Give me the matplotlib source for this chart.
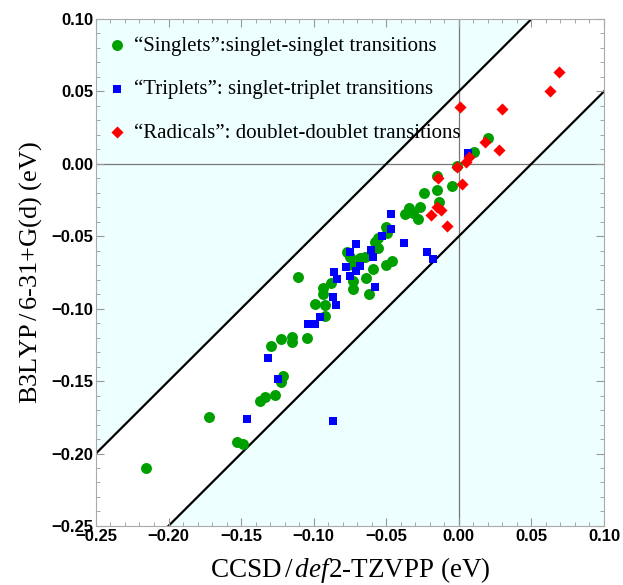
import numpy as np
import matplotlib
matplotlib.use("Agg")
import matplotlib.pyplot as plt
from matplotlib.ticker import MultipleLocator, FuncFormatter

plt.rcParams["mathtext.fontset"] = "custom"
plt.rcParams["mathtext.rm"] = "Liberation Serif"
plt.rcParams["mathtext.it"] = "Liberation Serif:italic"

# ---- data (CCSD x, B3LYP y) ----
singlets_x = [0.0200, 0.0103, -0.0014, -0.0152, -0.0048, -0.0152, -0.0241, -0.0138, -0.0269, -0.0345,
              -0.0372, -0.0317, -0.0283, -0.0503, -0.0496, -0.0558, -0.0579, -0.0558, -0.0772, -0.0751,
              -0.0682, -0.0648, -0.0731, -0.0462, -0.0503, -0.0593, -0.0641, -0.0731, -0.0731, -0.0620,
              -0.1110, -0.0937, -0.0937, -0.0992, -0.0924, -0.0924, -0.1048, -0.1151, -0.1151, -0.1227,
              -0.1296, -0.1213, -0.1227, -0.1268, -0.1337, -0.1371, -0.1723, -0.1530, -0.1489, -0.2157,
              -0.0880]
singlets_y = [0.0179, 0.0083, -0.0014, -0.0083, -0.0152, -0.0179, -0.0200, -0.0262, -0.0297, -0.0304,
              -0.0345, -0.0338, -0.0380, -0.0435, -0.0476, -0.0511, -0.0538, -0.0580, -0.0607, -0.0642,
              -0.0649, -0.0642, -0.0697, -0.0669, -0.0697, -0.0725, -0.0787, -0.0807, -0.0863, -0.0897,
              -0.0780, -0.0856, -0.0897, -0.0966, -0.0973, -0.1049, -0.1201, -0.1194, -0.1228, -0.1208,
              -0.1256, -0.1463, -0.1504, -0.1594, -0.1608, -0.1636, -0.1746, -0.1919, -0.1932, -0.2098,
              -0.0820]

triplets_x = [0.0062, -0.0469, -0.0469, -0.0531, -0.0379, -0.0710, -0.0221, -0.0179, -0.0606, -0.0593,
              -0.0751, -0.0779, -0.0682, -0.0861, -0.0710, -0.0751, -0.0841, -0.0579, -0.0868, -0.0848,
              -0.0958, -0.0992, -0.1041, -0.1316, -0.1247, -0.1461, -0.0868]
triplets_y = [0.0076, -0.0345, -0.0449, -0.0497, -0.0545, -0.0552, -0.0607, -0.0656, -0.0594, -0.0642,
              -0.0607, -0.0711, -0.0704, -0.0745, -0.0738, -0.0773, -0.0794, -0.0849, -0.0918, -0.0973,
              -0.1056, -0.1104, -0.1104, -0.1339, -0.1484, -0.1760, -0.1774]

radicals_x = [0.069, 0.063, 0.001, 0.030, 0.028, 0.018, 0.007, 0.005, -0.001, -0.0145,
              0.002, -0.015, -0.012, -0.019, -0.008]
radicals_y = [0.0635, 0.050, 0.039, 0.038, 0.0097, 0.015, 0.005, 0.001, -0.002, -0.010,
              -0.014, -0.030, -0.032, -0.035, -0.043]

labels = ["\u201cSinglets\u201d:singlet-singlet transitions",
          "\u201cTriplets\u201d: singlet-triplet transitions",
          "\u201cRadicals\u201d: doublet-doublet transitions"]
band = 0.05
xlim = (-0.25, 0.10)
ylim = (-0.25, 0.10)

fig = plt.figure(figsize=(6.23, 5.85), dpi=100)
ax = fig.add_axes([0.154, 0.101, 0.8155, 0.8665])
ax.set_xlim(*xlim)
ax.set_ylim(*ylim)

# background shading
ax.set_facecolor("#EEFFFF")
xx = np.array(xlim)
ax.fill_between(xx, xx - band, xx + band, color="white", zorder=0.5, lw=0)
ax.plot(xx, xx + band, color="black", lw=1.6, zorder=1)
ax.plot(xx, xx - band, color="black", lw=1.6, zorder=1)
ax.axhline(0, color="#777777", lw=0.9, zorder=0.8)
ax.axvline(0, color="#777777", lw=0.9, zorder=0.8)

ax.scatter(singlets_x, singlets_y, s=62, marker="o", color="#009F00", lw=0, zorder=3, label=labels[0])
ax.scatter(triplets_x, triplets_y, s=30, marker="s", color="#0000FF", lw=0, zorder=3, label=labels[1])
ax.scatter(radicals_x, radicals_y, s=38, marker="D", color="#FF0000", lw=0, zorder=3, label=labels[2])

fmt = FuncFormatter(lambda v, p: f"{v:.2f}".replace("-", "\u2212") if abs(v) > 1e-9 else "0.00")
ax.xaxis.set_major_locator(MultipleLocator(0.05))
ax.yaxis.set_major_locator(MultipleLocator(0.05))
ax.xaxis.set_minor_locator(MultipleLocator(0.01))
ax.yaxis.set_minor_locator(MultipleLocator(0.01))
ax.xaxis.set_major_formatter(fmt)
ax.yaxis.set_major_formatter(fmt)
ax.tick_params(which="both", direction="in", top=True, right=True, color="#999999")
ax.tick_params(which="major", length=6, width=0.8, pad=2)
ax.tick_params(which="minor", length=3, width=0.6)
for lab in ax.get_xticklabels() + ax.get_yticklabels():
    lab.set_fontfamily("Liberation Sans")
    lab.set_fontweight("bold")
    lab.set_fontsize(12)
for sp in ax.spines.values():
    sp.set_color("#AAAAAA")
    sp.set_linewidth(0.8)

ax.set_xlabel("CCSD$\\,/\\,$$\\mathit{def}$2-TZVPP (eV)", fontfamily="Liberation Serif", fontsize=19.5, labelpad=8)
ax.set_ylabel("B3LYP$\\,/\\,$6-31+G(d) (eV)", fontfamily="Liberation Serif", fontsize=19, labelpad=5)

leg = ax.legend(loc="upper left", frameon=False, prop={"family": "Liberation Serif", "size": 15},
                labelspacing=1.15, handletextpad=0.25, borderaxespad=0.0, handlelength=1.2,
                bbox_to_anchor=(0.0, 0.983))

fig.savefig("out.png", dpi=100)
